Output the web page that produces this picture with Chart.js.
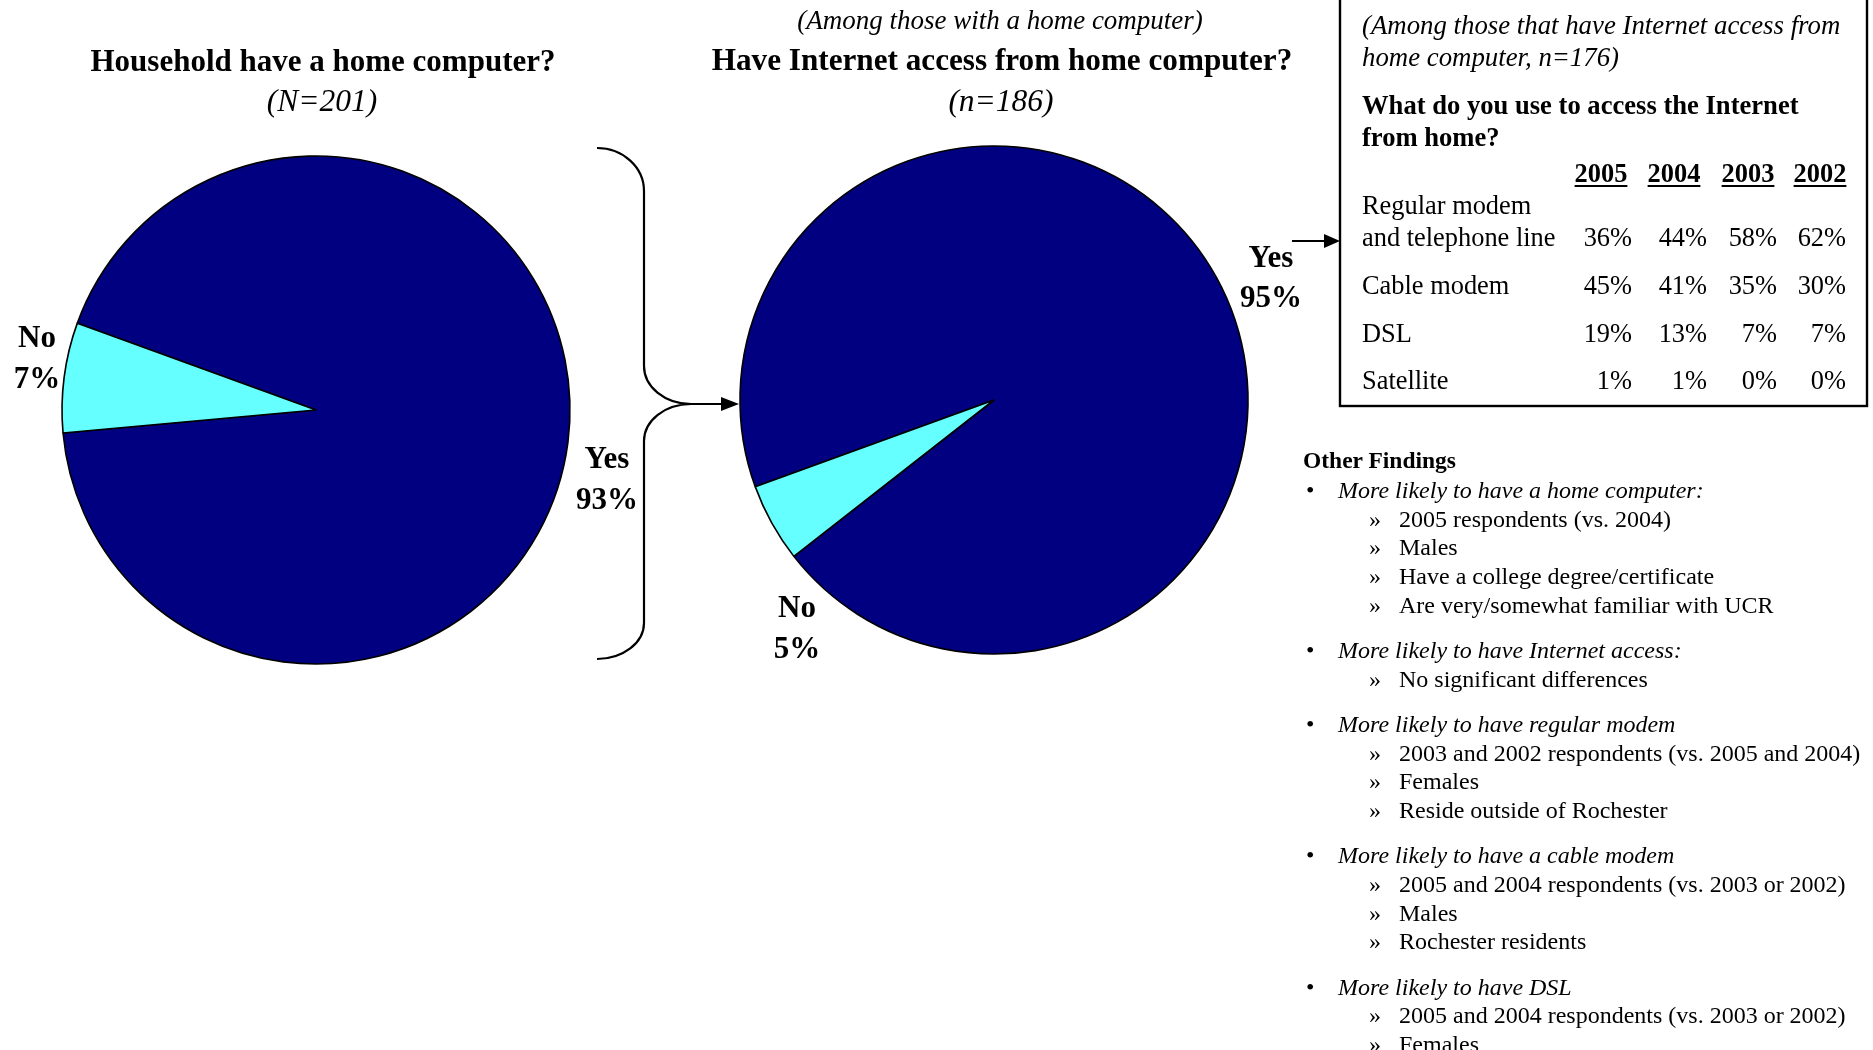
<!DOCTYPE html>
<html>
<head>
<meta charset="utf-8">
<title>Home computer and Internet access</title>
<script src="https://cdn.jsdelivr.net/npm/chart.js@4.4.1/dist/chart.umd.min.js"></script>
<style>
  html, body { margin: 0; padding: 0; background: #fff; }
  #page { position: relative; width: 1873px; height: 1050px; overflow: hidden;
          font-family: 'Liberation Serif', 'Times New Roman', serif; color: #000; }
  .t { position: absolute; white-space: nowrap; line-height: 1; }
  canvas { position: absolute; }
  svg { position: absolute; left: 0; top: 0; }
</style>
</head>
<body>
<div id="page">
  <canvas id="homePie" width="540" height="540" style="left:46px;top:140px"></canvas>
  <canvas id="inetPie" width="540" height="540" style="left:724px;top:130px"></canvas>
  <svg width="1873" height="1050">
    <!-- brace from first pie to second -->
    <path d="M597,148 A47,43 0 0 1 644,191 L644,366 A47,38 0 0 0 691,404 A47,37 0 0 0 644,441 L644,623 A47,36 0 0 1 597,659"
          fill="none" stroke="#000" stroke-width="2.2"/>
    <line x1="691" y1="404" x2="724" y2="404" stroke="#000" stroke-width="2.2"/>
    <polygon points="721,397 739,404 721,411" fill="#000"/>
    <!-- arrow from Yes 95% to the box -->
    <line x1="1292" y1="241" x2="1326" y2="241" stroke="#000" stroke-width="2.2"/>
    <polygon points="1324,234 1340,241 1324,248" fill="#000"/>
    <!-- table box -->
    <rect x="1340" y="-5" width="527" height="411" fill="none" stroke="#000" stroke-width="2.4"/>
  </svg>
</div>
<script>
var homeLabels = ['Yes', 'No'];
var homeValues = [93, 7];
var inetLabels = ['Yes', 'No'];
var inetValues = [95, 5];
var sliceColors = ['#000080', '#66ffff'];

var accessYears = ['2005', '2004', '2003', '2002'];
var accessTypes = ['Regular modem\nand telephone line', 'Cable modem', 'DSL', 'Satellite'];
var regularModem = [36, 44, 58, 62];
var cableModem = [45, 41, 35, 30];
var dslAccess = [19, 13, 7, 7];
var satellite = [1, 1, 0, 0];

var findingHeads = [
    'More likely to have a home computer:',
    'More likely to have Internet access:',
    'More likely to have regular modem',
    'More likely to have a cable modem',
    'More likely to have DSL'
];
var findingItems = [
    ['2005 respondents (vs. 2004)', 'Males', 'Have a college degree/certificate', 'Are very/somewhat familiar with UCR'],
    ['No significant differences'],
    ['2003 and 2002 respondents (vs. 2005 and 2004)', 'Females', 'Reside outside of Rochester'],
    ['2005 and 2004 respondents (vs. 2003 or 2002)', 'Males', 'Rochester residents'],
    ['2005 and 2004 respondents (vs. 2003 or 2002)', 'Females']
];

var page = document.getElementById('page');

// y is the visual middle of the line
function addText(str, x, y, size, style, align) {
    var d = document.createElement('div');
    d.className = 't';
    d.textContent = str;
    d.style.fontSize = size + 'px';
    d.style.top = (y - size / 2) + 'px';
    if (style && style.indexOf('b') >= 0) d.style.fontWeight = 'bold';
    if (style && style.indexOf('i') >= 0) d.style.fontStyle = 'italic';
    if (style && style.indexOf('u') >= 0) {
        d.style.textDecoration = 'underline';
        d.style.textDecorationThickness = '2px';
        d.style.textUnderlineOffset = '3px';
    }
    if (align === 'center') {
        d.style.left = x + 'px';
        d.style.transform = 'translateX(-50%)';
    } else if (align === 'right') {
        d.style.right = (1873 - x) + 'px';
    } else {
        d.style.left = x + 'px';
    }
    page.appendChild(d);
    return d;
}

function makePie(id, labels, values, rotation) {
    new Chart(document.getElementById(id), {
        type: 'pie',
        data: {
            labels: labels,
            datasets: [{
                data: values,
                backgroundColor: sliceColors,
                borderColor: '#000',
                borderWidth: 1.6,
                radius: 254
            }]
        },
        options: {
            responsive: false,
            animation: false,
            rotation: rotation,
            layout: { padding: 0 },
            plugins: { legend: { display: false }, tooltip: { enabled: false } }
        }
    });
}

makePie('homePie', homeLabels, homeValues, -70);
makePie('inetPie', inetLabels, inetValues, -110);

// titles
addText('Household have a home computer?', 323, 60, 31, 'b', 'center');
addText('(N=201)', 322, 101, 31.5, 'i', 'center');
addText('(Among those with a home computer)', 1000, 20, 27, 'i', 'center');
addText('Have Internet access from home computer?', 1002, 60, 31.2, 'b', 'center');
addText('(n=186)', 1001, 101, 31.5, 'i', 'center');

// slice labels
var homeLabelPos = [[607, 457, 498], [37, 336, 377]];
var inetLabelPos = [[1271, 256, 296], [797, 606, 647]];
for (var i = 0; i < 2; i++) {
    addText(homeLabels[i], homeLabelPos[i][0], homeLabelPos[i][1], 31, 'b', 'center');
    addText(homeValues[i] + '%', homeLabelPos[i][0], homeLabelPos[i][2], 31, 'b', 'center');
    addText(inetLabels[i], inetLabelPos[i][0], inetLabelPos[i][1], 31, 'b', 'center');
    addText(inetValues[i] + '%', inetLabelPos[i][0], inetLabelPos[i][2], 31, 'b', 'center');
}

// table box
var boxX = 1362;
addText('(Among those that have Internet access from', boxX, 25, 26.8, 'i');
addText('home computer, n=176)', boxX, 57, 26.8, 'i');
addText('What do you use to access the Internet', boxX, 105, 26.6, 'b');
addText('from home?', boxX, 137, 26.6, 'b');

var yearCenters = [1601, 1674, 1748, 1820];
var valueRights = [1632, 1707, 1777, 1846];
for (var j = 0; j < accessYears.length; j++) {
    addText(accessYears[j], yearCenters[j], 173, 26.4, 'bu', 'center');
}
var rowValues = [regularModem, cableModem, dslAccess, satellite];
var rowY = [237, 285, 333, 380];
for (var r = 0; r < accessTypes.length; r++) {
    var parts = accessTypes[r].split('\n');
    if (parts.length > 1) addText(parts[0], boxX, rowY[r] - 32, 26.4, '');
    addText(parts[parts.length - 1], boxX, rowY[r], 26.4, '');
    for (var c = 0; c < accessYears.length; c++) {
        addText(rowValues[r][c] + '%', valueRights[c], rowY[r], 26.4, '', 'right');
    }
}

// other findings
addText('Other Findings', 1303, 461, 23.5, 'b');
var y = 490;
for (var g = 0; g < findingHeads.length; g++) {
    addText('\u2022', 1306, y, 24, '');
    addText(findingHeads[g], 1338, y, 24, 'i');
    y += 28.7;
    for (var k = 0; k < findingItems[g].length; k++) {
        addText('\u00bb', 1369, y, 24, '');
        addText(findingItems[g][k], 1399, y, 24, '');
        y += 28.7;
    }
    y += 16.5;
}
</script>
</body>
</html>
